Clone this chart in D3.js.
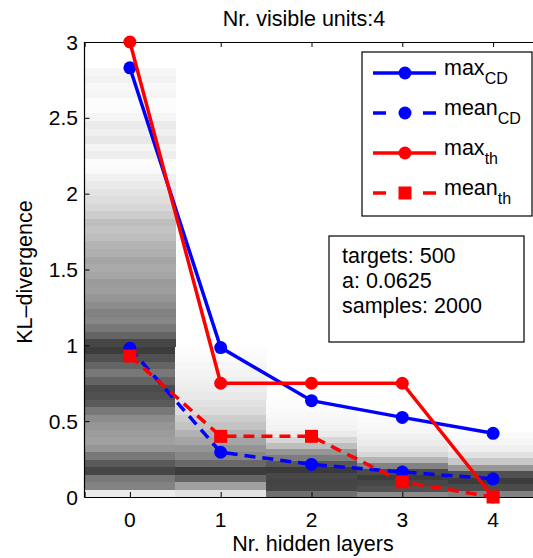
<!DOCTYPE html>
<html><head><meta charset="utf-8">
<script src="https://cdn.jsdelivr.net/npm/d3@7"></script>
<style>body{margin:0;background:#fff;} text{font-family:"Liberation Sans",Arial,sans-serif;}</style>
</head><body><svg id="c" width="533" height="558"></svg>
<script>
const layers = [0, 1, 2, 3, 4];
const maxCD  = [2.83, 0.985, 0.635, 0.525, 0.42];
const meanCD = [0.98, 0.295, 0.215, 0.165, 0.12];
const maxTh  = [3.0, 0.75, 0.75, 0.75, 0.0];
const meanTh = [0.93, 0.40, 0.40, 0.10, 0.0];
const yTicks = [0, 0.5, 1, 1.5, 2, 2.5, 3];
const yTickLabels = ["0", "0.5", "1", "1.5", "2", "2.5", "3"];
const xTickLabels = ["0", "1", "2", "3", "4"];
// histogram background (gray level, bottom -> top), extent top per column
const heatTop = [2.83, 0.99, 0.64, 0.53, 0.43];
const heat0 = [235,130,120,70,90,120,150,160,155,150,140,120,90,80,75,100,120,100,80,60,70,100,120,135,130,140,150,158,155,165,170,165,175,180,190,195,190,205,215,222,228,234,240,250,252,238,245,232,240,235,245,252,252,245,248,242,246];
const heat1 = [225,160,100,60,105,135,148,165,178,195,205,220,225,233,237,240,243,246,250,252];
const heat2 = [110,70,68,72,58,88,125,150,190,215,235,242,245,248,250,252];
const heat3 = [140,80,70,60,75,130,180,215,228,235,240,245,248,250];
const heat4 = [130,75,60,80,150,200,225,240,246,250];
const heats = [heat0, heat1, heat2, heat3, heat4];

const svg = d3.select("#c");
const x = d3.scaleLinear().domain([-0.5, 4.5]).range([84.5, 538.5]);
const y = d3.scaleLinear().domain([0, 3]).range([497, 42]);

// heat background
heats.forEach((arr, i) => {
  const h = heatTop[i] / arr.length;
  svg.append("g").attr("shape-rendering", "crispEdges").selectAll("rect").data(arr).join("rect")
    .attr("x", x(layers[i] - 0.5)).attr("width", x(layers[i] + 0.5) - x(layers[i] - 0.5) + 0.5)
    .attr("y", (d, j) => y((j + 1) * h)).attr("height", (d, j) => y(j * h) - y((j + 1) * h) + 0.5)
    .attr("fill", d => `rgb(${d},${d},${d})`);
});

// axes
const axL = svg.append("g").attr("transform", `translate(${x(-0.5)},0)`)
  .call(d3.axisRight(y).tickValues(yTicks).tickSize(5).tickFormat(""));
const axB = svg.append("g").attr("transform", `translate(0,${y(0)})`)
  .call(d3.axisTop(x).tickValues(layers).tickSize(5).tickFormat(""));
const axT = svg.append("g").attr("transform", `translate(0,${y(3)})`)
  .call(d3.axisBottom(x).tickValues(layers).tickSize(5).tickFormat(""));
[axL, axB, axT].forEach(a => { a.select(".domain").attr("stroke", "#000").attr("stroke-width", 1.2); a.selectAll(".tick line").attr("stroke", "#000"); });
axL.select(".domain").attr("d", `M0,${y(0)}V${y(3)}`);

// tick labels
svg.append("g").selectAll("text").data(yTicks).join("text")
  .attr("x", 78).attr("y", d => y(d)).attr("dy", "0.36em").attr("text-anchor", "end")
  .attr("font-size", 21).text((d, i) => yTickLabels[i]);
svg.append("g").selectAll("text").data(layers).join("text")
  .attr("x", d => x(d)).attr("y", 527).attr("text-anchor", "middle")
  .attr("font-size", 21).text((d, i) => xTickLabels[i]);

// labels
svg.append("text").attr("x", 304).attr("y", 26).attr("text-anchor", "middle").attr("font-size", 21.5).text("Nr. visible units:4");
svg.append("text").attr("x", 313).attr("y", 551).attr("text-anchor", "middle").attr("font-size", 21.5).text("Nr. hidden layers");
svg.append("text").attr("transform", "translate(32,272) rotate(-90)").attr("text-anchor", "middle").attr("font-size", 21.5).text("KL\u2013divergence");

// series
const series = [
  {vals: maxCD, color: "#0000ff", dash: null, marker: "circle", name: "max", sub: "CD"},
  {vals: meanCD, color: "#0000ff", dash: "11,7", marker: "circle", name: "mean", sub: "CD"},
  {vals: maxTh, color: "#ff0000", dash: null, marker: "circle", name: "max", sub: "th"},
  {vals: meanTh, color: "#ff0000", dash: "11,7", marker: "square", name: "mean", sub: "th"}
];
const line = d3.line().x((d, i) => x(layers[i])).y(d => y(d));
function marker(g, type, cx, cy, color) {
  if (type === "circle") g.append("circle").attr("cx", cx).attr("cy", cy).attr("r", 6.5).attr("fill", color);
  else g.append("rect").attr("x", cx - 6.5).attr("y", cy - 6.5).attr("width", 13).attr("height", 13).attr("fill", color);
}
series.forEach(s => {
  const g = svg.append("g");
  g.append("path").attr("d", line(s.vals)).attr("fill", "none").attr("stroke", s.color)
    .attr("stroke-width", 3.5).attr("stroke-dasharray", s.dash);
  s.vals.forEach((v, i) => marker(g, s.marker, x(layers[i]), y(v), s.color));
});

// legend
const lg = svg.append("g");
lg.append("rect").attr("x", 362).attr("y", 52).attr("width", 170).attr("height", 164)
  .attr("fill", "#fff").attr("stroke", "#000").attr("stroke-width", 1.2);
series.forEach((s, i) => {
  const ly = 73 + i * 40;
  lg.append("line").attr("x1", 373).attr("x2", 436).attr("y1", ly).attr("y2", ly)
    .attr("stroke", s.color).attr("stroke-width", 3.5).attr("stroke-dasharray", s.dash ? "13,37" : null);
  marker(lg, s.marker, 405, ly, s.color);
  const t = lg.append("text").attr("x", 444).attr("y", ly + 2).attr("font-size", 21.5).text(s.name);
  t.append("tspan").attr("dy", 9).attr("font-size", 16).text(s.sub);
});

// info box
const ib = svg.append("g");
ib.append("rect").attr("x", 329).attr("y", 236).attr("width", 195).attr("height", 106)
  .attr("fill", "#fff").attr("stroke", "#000").attr("stroke-width", 1.2);
["targets: 500", "a: 0.0625", "samples: 2000"].forEach((t, i) =>
  ib.append("text").attr("x", 342).attr("y", 263 + i * 25).attr("font-size", 21.5).text(t));
</script></body></html>
